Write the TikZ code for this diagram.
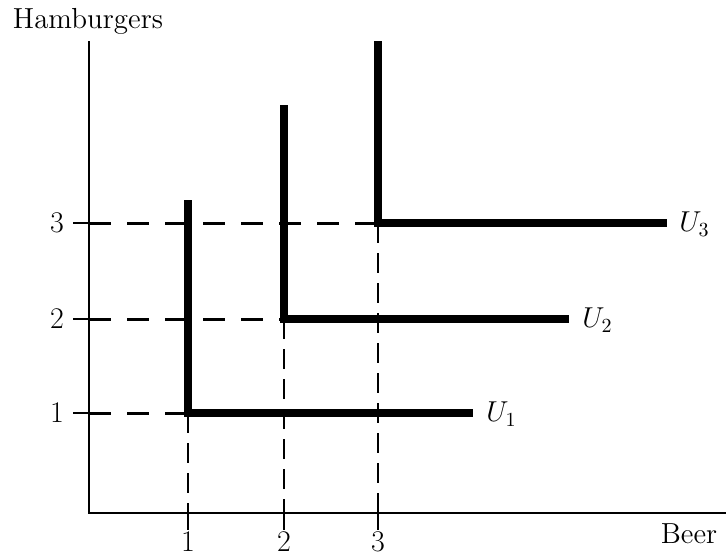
\documentclass[tikz,border=0pt]{standalone}
\begin{document}
\begin{tikzpicture}[x=0.5pt,y=-0.5pt,
  axis/.style={line width=1.1pt},
  curve/.style={line width=4pt, line join=miter, line cap=butt},
  hdash/.style={line width=1.5pt, dash pattern=on 11pt off 8pt, dash phase=0pt},
  vdash/.style={line width=1pt, dash pattern=on 10pt off 5pt},
  tick/.style={line width=1.1pt},
  lab/.style={font=\fontsize{14.5}{16}\selectfont, inner sep=0pt},
  num/.style={font=\fontsize{15}{17}\selectfont, inner sep=0pt}]
\useasboundingbox (0,0) rectangle (726,558);
% axes
\coordinate (O) at (89,513);
\coordinate (ytop) at (89,41);
\coordinate (xend) at (726,513);
\draw[axis] (ytop) -- (O) -- (xend);
% positions
\coordinate (x1) at (188,513);
\coordinate (x2) at (284,513);
\coordinate (x3) at (378,513);
\coordinate (y1) at (89,413);
\coordinate (y2) at (89,319);
\coordinate (y3) at (89,223);
\coordinate (c1) at (188,413);
\coordinate (c2) at (284,319);
\coordinate (c3) at (378,223);
% ticks
\coordinate (tx1) at (188,530);
\coordinate (tx2) at (284,530);
\coordinate (tx3) at (378,530);
\coordinate (ty1) at (73,413);
\coordinate (ty2) at (73,319);
\coordinate (ty3) at (73,223);
\foreach \i in {1,2,3}{
  \draw[tick] (x\i) -- (tx\i);
  \draw[tick] (y\i) -- (ty\i);
  \draw[hdash] (y\i) -- (c\i);
  \draw[vdash] (c\i) -- (x\i);
}
% curves
\coordinate (t1) at (188,200);
\coordinate (e1) at (473,413);
\coordinate (t2) at (284,105);
\coordinate (e2) at (569,319);
\coordinate (t3) at (378,41);
\coordinate (e3) at (667,223);
\draw[curve] (t1) -- (c1) -- (e1);
\draw[curve] (t2) -- (c2) -- (e2);
\draw[curve] (t3) -- (c3) -- (e3);
% labels
\node[lab, anchor=west] (u1) at (486,414) {$U_1$};
\node[lab, anchor=west] (u2) at (582,320) {$U_2$};
\node[lab, anchor=west] (u3) at (679,224) {$U_3$};
\node[num] (ly1) at (57,413) {1};
\node[num] (ly2) at (57,319) {2};
\node[num] (ly3) at (57,223) {3};
\node[num] (lx1) at (188,542) {1};
\node[num] (lx2) at (284,542) {2};
\node[num] (lx3) at (378,542) {3};
\node[lab, anchor=base] (beer) at (689,543) {Beer};
\node[lab, anchor=base] (ham) at (88,28) {Hamburgers};
\end{tikzpicture}
\end{document}
